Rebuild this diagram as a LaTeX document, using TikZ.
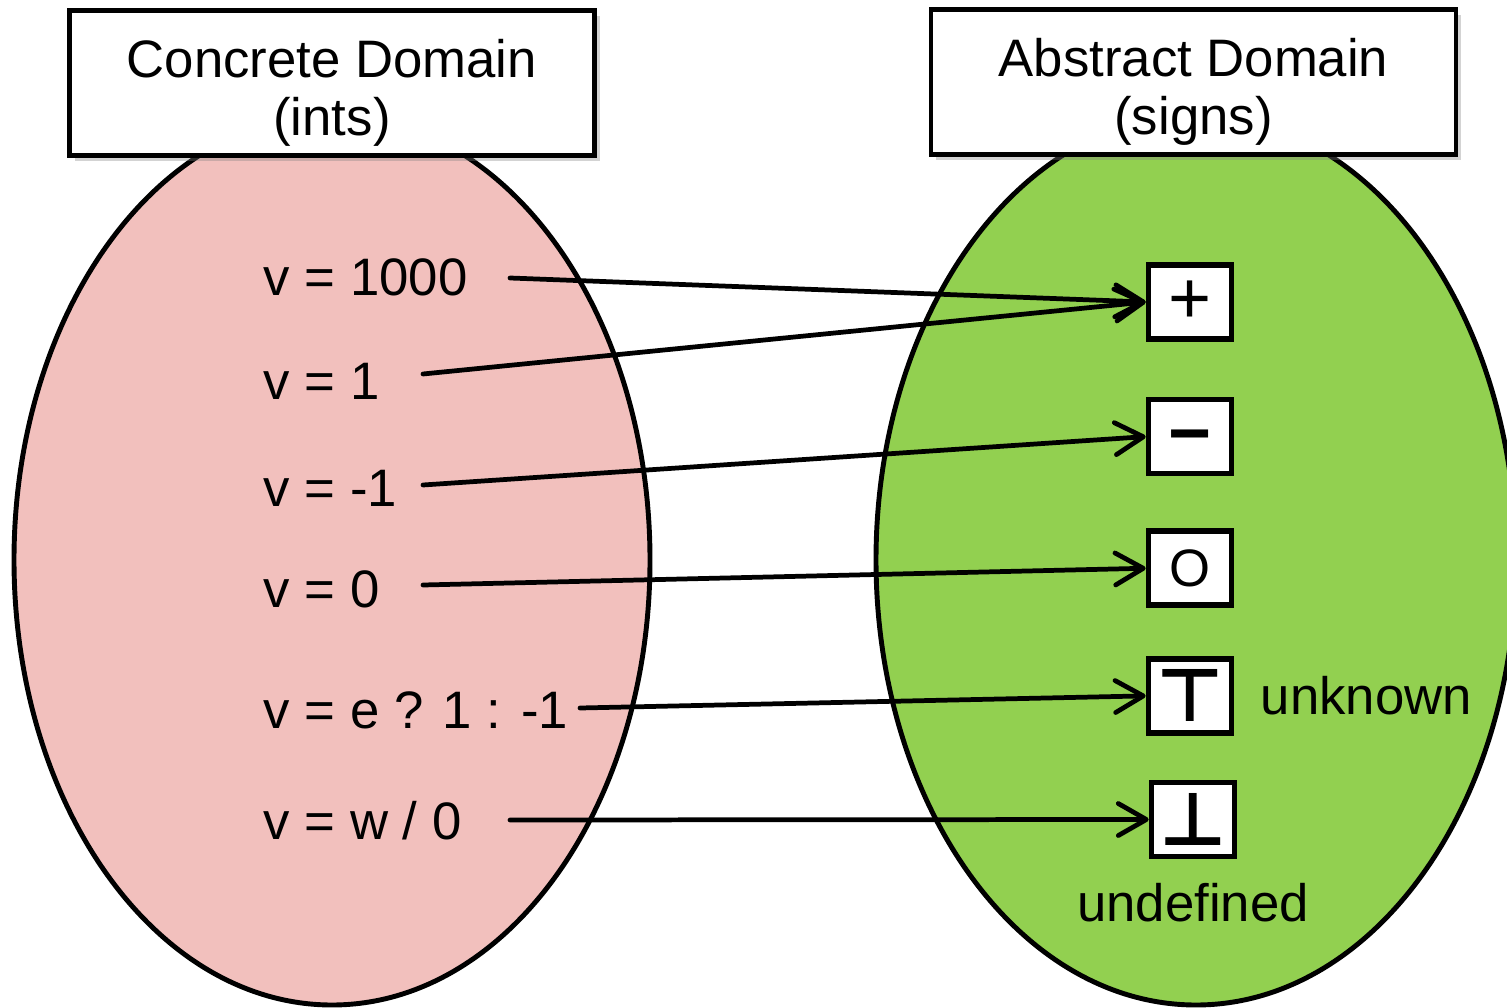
\documentclass[tikz,border=0pt]{standalone}
\usepackage{fontspec}
\setmainfont{Liberation Sans}
\newfontfamily\symfont{DejaVu Sans}
\usepackage{tikz}
\usetikzlibrary{arrows.meta,positioning,shapes.geometric,shadows}

\definecolor{concrete}{RGB}{242,192,189}
\definecolor{abstract}{RGB}{146,208,80}

\begin{document}
\begin{tikzpicture}[map/.style={-{Straight Barb[length=2.8mm,width=3.2mm,round]},line width=1.35pt,line cap=round},
                    font=\fontsize{15}{16.5}\selectfont]
  \tikzstyle{domainset}=[ellipse,draw,line width=1.4pt,minimum width=6.36cm,minimum height=8.9cm,inner sep=0pt]
  \tikzstyle{titlebox}=[rectangle,draw,fill=white,line width=1.4pt,minimum width=5.25cm,minimum height=1.45cm,
                     drop shadow={shadow xshift=1.5pt,shadow yshift=-1.5pt,opacity=0.35}]
  \tikzstyle{signbox}=[rectangle,draw,fill=white,line width=1.6pt,minimum width=0.83cm,minimum height=0.74cm,inner sep=0pt]
  \tikzstyle{value}=[anchor=base west,inner sep=0pt]

  \useasboundingbox (0,0) rectangle (15.07,-10.08);

  % the two domains
  \node[domainset,fill=concrete] (C) at (3.32,-5.60) {};
  \node[domainset,fill=abstract,minimum width=6.40cm] (A) at (11.96,-5.60) {};

  \node[titlebox] (CT) at (3.32,-0.83) {};
  \node[titlebox] (AT) at (11.935,-0.82) {};
  \node[align=center] at ([yshift=-0.1cm]CT.center) {Concrete Domain\\(ints)};
  \node[align=center] at ([yshift=-0.1cm]AT.center) {Abstract Domain\\(signs)};

  % concrete values
  \node[value] (v1000) at (2.63,-2.96) {v = 1000};
  \node[value] (vone)  at (2.63,-4.00) {v = 1};
  \node[value] (vmone) at (2.63,-5.06) {v = -1};
  \node[value] (vzero) at (2.63,-6.07) {v = 0};
  \node[value] (vcond) at (2.63,-7.28) {v = e ? 1 : -1};
  \node[value] (vdiv)  at (2.63,-8.39) {v = w / 0};

  % abstract values
  \node[signbox] (plus) at (11.90,-3.02) {\fontsize{21}{21}\selectfont +};
  \node[signbox] (minus) [below=0.55cm of plus]  {\fontsize{21}{21}\selectfont\bfseries\vphantom{+}−};
  \node[signbox] (zero)  [below=0.52cm of minus] {O};
  \node[signbox] (topv)  [below=0.48cm of zero]  {\symfont\fontsize{21}{21}\selectfont\bfseries ⊤};
  \node[signbox] (botv)  [below=0.44cm of topv,xshift=0.03cm] {\symfont\fontsize{21}{21}\selectfont\bfseries ⊥};

  \node (unk)   [right=0.14cm of topv] {unknown};
  \node (undef) [below=0.12cm of botv]  {undefined};

  \coordinate (s1) at (5.10,-2.78);
  \coordinate (s2) at (4.23,-3.74);
  \coordinate (s3) at (4.23,-4.85);
  \coordinate (s4) at (4.23,-5.85);
  \coordinate (s5) at (5.80,-7.08);
  \coordinate (s6) at (5.10,-8.20);

  \path[map] (s1) edge (plus.west)
             (s2) edge (plus.west)
             (s3) edge (minus.west)
             (s4) edge (zero.west)
             (s5) edge (topv.west)
             (s6) edge (botv.west);

\end{tikzpicture}
\end{document}
